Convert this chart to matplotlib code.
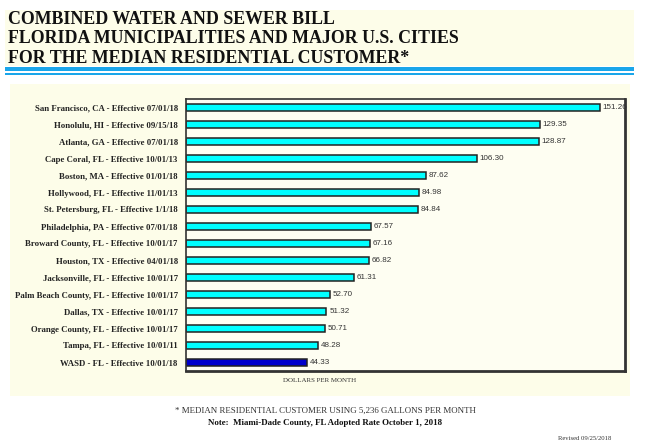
import matplotlib
matplotlib.use("Agg")
import matplotlib.pyplot as plt
from matplotlib.patches import Rectangle

cities = [
    "San Francisco, CA - Effective 07/01/18",
    "Honolulu, HI - Effective 09/15/18",
    "Atlanta, GA - Effective 07/01/18",
    "Cape Coral, FL - Effective 10/01/13",
    "Boston, MA - Effective 01/01/18",
    "Hollywood, FL - Effective 11/01/13",
    "St. Petersburg, FL - Effective 1/1/18",
    "Philadelphia, PA - Effective 07/01/18",
    "Broward County, FL - Effective 10/01/17",
    "Houston, TX - Effective 04/01/18",
    "Jacksonville, FL - Effective 10/01/17",
    "Palm Beach County, FL - Effective 10/01/17",
    "Dallas, TX - Effective 10/01/17",
    "Orange County, FL - Effective 10/01/17",
    "Tampa, FL - Effective 10/01/11",
    "WASD - FL - Effective 10/01/18",
]
bills = [151.26, 129.35, 128.87, 106.30, 87.62, 84.98, 84.84, 67.57,
         67.16, 66.82, 61.31, 52.70, 51.32, 50.71, 48.28, 44.33]
highlight = "WASD - FL - Effective 10/01/18"

W, H = 650, 447
fig = plt.figure(figsize=(W / 100, H / 100), dpi=100)
fig.patch.set_facecolor("white")

yellow = "#fdfde9"


def px_rect(x0, y0, x1, y1, **kw):
    # rectangle given in pixel coords (origin top-left), drawn behind the axes
    fig.patches.append(Rectangle((x0 / W, 1 - y1 / H), (x1 - x0) / W, (y1 - y0) / H,
                                 transform=fig.transFigure, figure=fig, zorder=-5, **kw))


# title block
px_rect(5, 10, 634, 66, facecolor=yellow, edgecolor="none")
px_rect(5, 67, 634, 71, facecolor="#1aa6ea", edgecolor="none")
px_rect(5, 72.8, 634, 75.2, facecolor="#1aa6ea", edgecolor="none")
# chart panel
px_rect(10, 84, 630, 396, facecolor=yellow, edgecolor="none")

title_lines = ["COMBINED WATER AND SEWER BILL",
               "FLORIDA MUNICIPALITIES AND MAJOR U.S. CITIES",
               "FOR THE MEDIAN RESIDENTIAL CUSTOMER*"]
for i, line in enumerate(title_lines):
    fig.text(8 / W, 1 - (24 + 19.4 * i) / H, line, family="Liberation Serif",
             fontweight="bold", fontsize=12.9, color="#111111", va="baseline")

# axes in pixel coords
ax_l, ax_t, ax_r, ax_b = 186, 99, 625, 371
ax = fig.add_axes([ax_l / W, 1 - ax_b / H, (ax_r - ax_l) / W, (ax_b - ax_t) / H])
ax.set_facecolor("#fefef2")

ypos = list(range(len(cities)))
colors = ["#0000cc" if c == highlight else "#00ffff" for c in cities]
ax.barh(ypos, bills, height=0.42, color=colors, edgecolor="#222222", linewidth=1.1)
for y, v in zip(ypos, bills):
    ax.text(v + 1.0, y, f"{v:.2f}", va="center", ha="left", fontsize=5.8,
            family="Liberation Sans", color="#333333")

ax.set_xlim(0, 160.4)
ax.set_ylim(len(cities) - 0.5, -0.5)
ax.set_yticks(ypos)
ax.set_yticklabels(cities, family="Liberation Serif", fontweight="bold",
                   fontsize=6.3, color="#222222")
ax.tick_params(axis="y", length=0, pad=6)
ax.set_xticks([])
for side in ["top", "left"]:
    ax.spines[side].set_linewidth(1.2)
for side in ["right", "bottom"]:
    ax.spines[side].set_linewidth(2.0)
for s in ax.spines.values():
    s.set_color("#333333")

fig.text(320 / W, 1 - 380 / H, "DOLLARS PER MONTH", family="Liberation Serif",
         fontsize=5.0, ha="center", va="center", color="#333333")

fig.text(325 / W, 1 - 411 / H, "* MEDIAN RESIDENTIAL CUSTOMER USING 5,236 GALLONS PER MONTH",
         family="Liberation Serif", fontsize=6.4, ha="center", va="center", color="#333333")
fig.text(325 / W, 1 - 423 / H, "Note:  Miami-Dade County, FL Adopted Rate October 1, 2018",
         family="Liberation Serif", fontsize=6.4, fontweight="bold", ha="center",
         va="center", color="#111111")
fig.text(585 / W, 1 - 438 / H, "Revised 09/25/2018", family="Liberation Serif",
         fontsize=4.8, ha="center", va="center", color="#333333")

fig.savefig("out.png", dpi=100)
